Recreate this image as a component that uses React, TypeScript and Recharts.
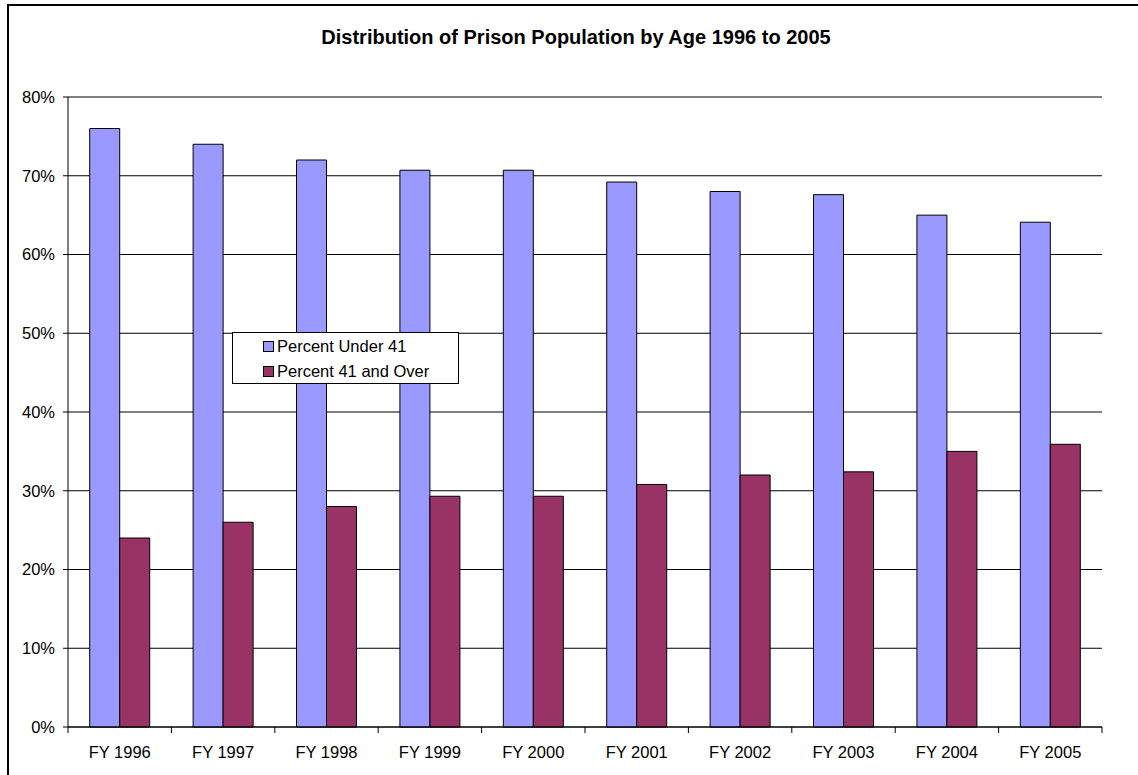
import React from "react";
import {
  BarChart,
  Bar,
  XAxis,
  YAxis,
  CartesianGrid,
  Legend,
  ReferenceLine,
} from "recharts";

const categories = [
  "FY 1996",
  "FY 1997",
  "FY 1998",
  "FY 1999",
  "FY 2000",
  "FY 2001",
  "FY 2002",
  "FY 2003",
  "FY 2004",
  "FY 2005",
];
const under41 = [76, 74, 72, 70.7, 70.7, 69.2, 68, 67.6, 65, 64.1];
const over41 = [24, 26, 28, 29.3, 29.3, 30.8, 32, 32.4, 35, 35.9];
const yTicks = [0, 10, 20, 30, 40, 50, 60, 70, 80];

const seriesNames = ["Percent Under 41", "Percent 41 and Over"];
const seriesColors = ["#9999FF", "#993366"];

const data = categories.map((c, i) => ({
  category: c,
  under: under41[i],
  over: over41[i],
}));

const FONT = "Arial, 'Liberation Sans', sans-serif";

// Category label plus a tick mark on the left edge of each band
// (and on the right edge of the last band).
const CategoryTick = (props: any) => {
  const { x, y, payload, index, width, visibleTicksCount } = props;
  const half =
    payload && typeof payload.offset === "number" && payload.offset > 0
      ? payload.offset
      : width / visibleTicksCount / 2;
  const isLast = index === visibleTicksCount - 1;
  return (
    <g>
      <line x1={x - half} x2={x - half} y1={y} y2={y + 6} stroke="#000" />
      {isLast && (
        <line x1={x + half} x2={x + half} y1={y} y2={y + 6} stroke="#000" />
      )}
      <text
        x={x}
        y={y + 19}
        dy="0.71em"
        textAnchor="middle"
        fill="#000"
        fontSize={16.5}
        fontFamily={FONT}
      >
        {payload.value}
      </text>
    </g>
  );
};

const LegendBox = () => (
  <div
    style={{
      width: 225,
      height: 50,
      border: "1px solid #000",
      background: "#fff",
      fontFamily: FONT,
      fontSize: 16.5,
      color: "#000",
      boxSizing: "content-box",
    }}
  >
    {seriesNames.map((name, i) => (
      <div
        key={name}
        style={{
          display: "flex",
          alignItems: "center",
          height: 25,
          marginTop: i === 0 ? 1 : 0,
          paddingLeft: 30,
        }}
      >
        <span
          style={{
            display: "inline-block",
            width: 9,
            height: 9,
            background: seriesColors[i],
            border: "1px solid #000",
            marginRight: 3,
          }}
        />
        <span>{name}</span>
      </div>
    ))}
  </div>
);

export default function App() {
  return (
    <div
      style={{
        position: "absolute",
        left: 0,
        top: 0,
        width: 1138,
        height: 775,
        background: "#fff",
        overflow: "hidden",
      }}
    >
      <div
        style={{
          position: "absolute",
          left: 7,
          top: 4,
          width: 1150,
          height: 800,
          border: "2px solid #000",
          boxSizing: "border-box",
        }}
      />
      <div
        style={{
          position: "absolute",
          left: 0,
          top: 27,
          width: 1152,
          textAlign: "center",
          fontFamily: FONT,
          fontWeight: "bold",
          fontSize: 20,
          lineHeight: "20px",
          color: "#000",
        }}
      >
        Distribution of Prison Population by Age 1996 to 2005
      </div>
      <div style={{ position: "absolute", left: 0, top: 0 }}>
        <BarChart
          width={1138}
          height={775}
          data={data}
          margin={{ top: 97, left: 8, right: 36, bottom: 18 }}
          barCategoryGap="21%"
          barGap={0}
        >
          <CartesianGrid
            xAxisId="cat"
            vertical={false}
            stroke="#000"
            strokeWidth={1}
          />
          <XAxis
            xAxisId="cat"
            dataKey="category"
            height={30}
            axisLine={{ stroke: "#000" }}
            tickLine={false}
            tickSize={0}
            tickMargin={0}
            interval={0}
            tick={<CategoryTick />}
          />
          <XAxis xAxisId="edges" type="number" domain={[0, 10]} hide />
          <YAxis
            width={60}
            domain={[0, 80]}
            ticks={yTicks}
            tickFormatter={(v) => `${v}%`}
            tickSize={5}
            tickMargin={8}
            axisLine={{ stroke: "#000" }}
            tickLine={{ stroke: "#000" }}
            tick={{ fill: "#000", fontSize: 16.5, fontFamily: FONT }}
          />
          <ReferenceLine xAxisId="edges" x={10} stroke="#888" strokeWidth={1.5} />
          <Legend
            layout="horizontal"
            verticalAlign="middle"
            align="center"
            content={<LegendBox />}
            wrapperStyle={{ position: "absolute", left: 232, top: 332, width: "auto" }}
          />
          <Bar
            xAxisId="cat"
            dataKey="under"
            name={seriesNames[0]}
            fill={seriesColors[0]}
            stroke="#000"
            strokeWidth={1}
            isAnimationActive={false}
          />
          <Bar
            xAxisId="cat"
            dataKey="over"
            name={seriesNames[1]}
            fill={seriesColors[1]}
            stroke="#000"
            strokeWidth={1}
            isAnimationActive={false}
          />
        </BarChart>
      </div>
    </div>
  );
}
